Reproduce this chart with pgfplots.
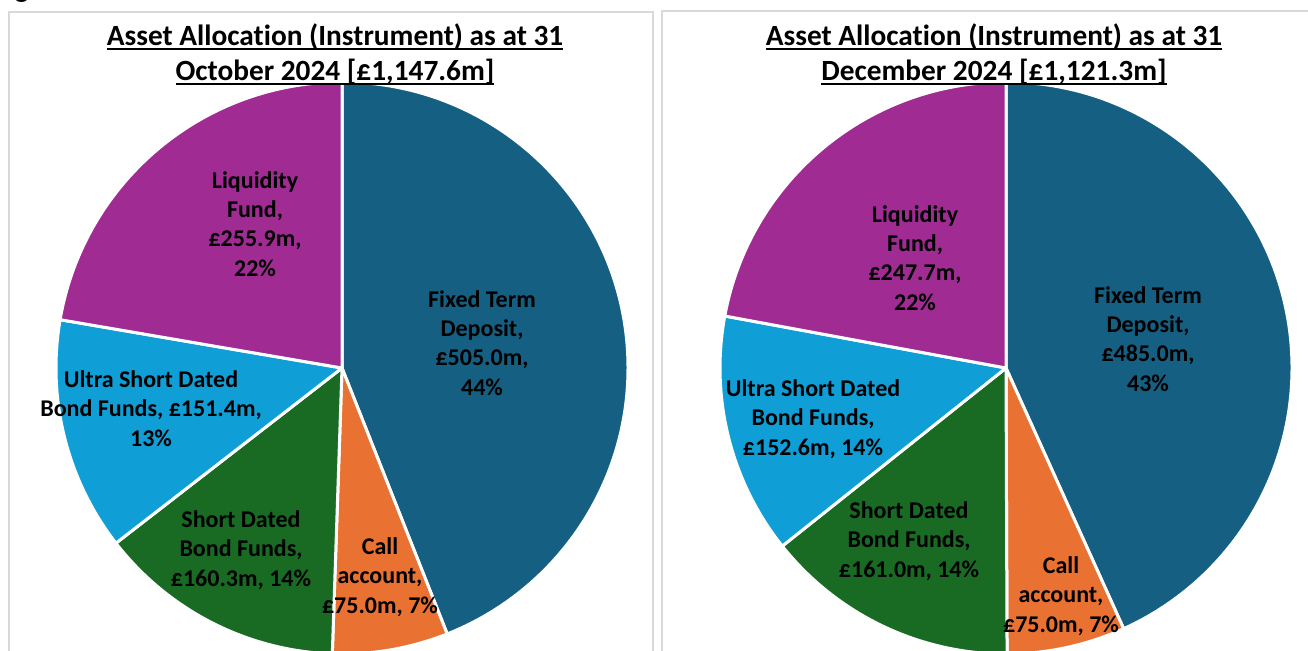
\documentclass[border=0pt]{standalone}
\usepackage{pgfplots}
\pgfplotsset{compat=1.18}
\usepackage{pgfplotstable}
\usepackage{fontspec}
\setmainfont{Carlito}[Ligatures=NoCommon]

\newsavebox\ulbox
\newcommand\ul[1]{\sbox\ulbox{#1}\rlap{\rule[-3.4pt]{\wd\ulbox}{1.5pt}}\usebox\ulbox}

\definecolor{cFixed}{HTML}{156082}
\definecolor{cCall}{HTML}{E97132}
\definecolor{cShort}{HTML}{196B24}
\definecolor{cUltra}{HTML}{0F9ED5}
\definecolor{cLiq}{HTML}{A02B93}
\definecolor{cFrame}{HTML}{D9D9D9}

% Values (order clockwise from 12 o'clock): Fixed, Call, Short, Ultra, Liquidity
\pgfplotstableread{
value
505.0
75.0
160.3
151.4
255.9
}\octdata
\pgfplotstableread{
value
485.0
75.0
161.0
152.6
247.7
}\decdata

\newcommand\pieangles[2]{%
  \gdef\pietotal{0}%
  \pgfplotstableforeachcolumnelement{value}\of#1\as\v{%
    \pgfmathsetmacro\t{\pietotal+\v}\xdef\pietotal{\t}}%
  \gdef\piecum{0}%
  \pgfplotstableforeachcolumnelement{value}\of#1\as\v{%
    \pgfmathsetmacro\s{90-(\piecum/\pietotal)*360}%
    \pgfmathsetmacro\t{\piecum+\v}\xdef\piecum{\t}%
    \pgfmathsetmacro\e{90-(\piecum/\pietotal)*360}%
    \expandafter\xdef\csname #2s\pgfplotstablerow\endcsname{\s}%
    \expandafter\xdef\csname #2e\pgfplotstablerow\endcsname{\e}}%
}
\pieangles{\octdata}{oct}
\pieangles{\decdata}{dec}

\def\pieR{214.5pt}
\newcommand\pieslice[5]{%
  \fill[#5, draw=white, line width=2.25pt, line join=round]
    (axis cs:#1,#2) -- ++(\csname #3s#4\endcsname:\pieR)
    arc[start angle=\csname #3s#4\endcsname, end angle=\csname #3e#4\endcsname, radius=\pieR] -- cycle;}

\newcommand\lbl{\bfseries\fontsize{18}{22}\selectfont}
\newcommand\ttl{\bfseries\fontsize{22}{26.25}\selectfont}

\begin{document}
\begin{tikzpicture}
\useasboundingbox (0,0) rectangle (981pt,487.5pt);
\begin{axis}[width=981pt, height=487.5pt, scale only axis,
  xmin=0, xmax=1308, ymin=0, ymax=650, y dir=reverse,
  axis lines=none, clip=true]
% frames
\draw[cFrame, line width=1.1pt] (axis cs:9,700) -- (axis cs:9,12) -- (axis cs:653,12) -- (axis cs:653,700);
\draw[cFrame, line width=1.1pt] (axis cs:662,700) -- (axis cs:662,11) -- (axis cs:1320,11);
% partial heading text cut off at top
\node[anchor=base west, font=\ttl, inner sep=0pt] at (axis cs:-6,-3) {Fig};
% left pie
\pieslice{342}{368}{oct}{0}{cFixed}
\pieslice{342}{368}{oct}{1}{cCall}
\pieslice{342}{368}{oct}{2}{cShort}
\pieslice{342}{368}{oct}{3}{cUltra}
\pieslice{342}{368}{oct}{4}{cLiq}
% right pie
\pieslice{1006}{368}{dec}{0}{cFixed}
\pieslice{1006}{368}{dec}{1}{cCall}
\pieslice{1006}{368}{dec}{2}{cShort}
\pieslice{1006}{368}{dec}{3}{cUltra}
\pieslice{1006}{368}{dec}{4}{cLiq}
% titles
\node[anchor=base, font=\ttl, inner sep=0pt] at (axis cs:335,45) {\ul{Asset Allocation (Instrument) as at 31}};
\node[anchor=base, font=\ttl, inner sep=0pt] at (axis cs:335,80) {\ul{October 2024 [£1,147.6m]}};
\node[anchor=base, font=\ttl, inner sep=0pt] at (axis cs:994,45) {\ul{Asset Allocation (Instrument) as at 31}};
\node[anchor=base, font=\ttl, inner sep=0pt] at (axis cs:994,80) {\ul{December 2024 [£1,121.3m]}};
% left labels (anchor = baseline of last line)
\node[anchor=base, font=\lbl, align=center, inner sep=0pt] at (axis cs:255,276) {Liquidity\\Fund,\\£255.9m,\\22\%};
\node[anchor=base, font=\lbl, align=center, inner sep=0pt] at (axis cs:482,395) {Fixed Term\\Deposit,\\£505.0m,\\44\%};
\node[anchor=base, font=\lbl, align=center, inner sep=0pt] at (axis cs:151,446) {Ultra Short Dated\\Bond Funds, £151.4m,\\13\%};
\node[anchor=base, font=\lbl, align=center, inner sep=0pt] at (axis cs:241,586) {Short Dated\\Bond Funds,\\£160.3m, 14\%};
\node[anchor=base, font=\lbl, align=center, inner sep=0pt] at (axis cs:380,613) {Call\\account,\\£75.0m, 7\%};
% right labels
\node[anchor=base, font=\lbl, align=center, inner sep=0pt] at (axis cs:915,310) {Liquidity\\Fund,\\£247.7m,\\22\%};
\node[anchor=base, font=\lbl, align=center, inner sep=0pt] at (axis cs:1148,391) {Fixed Term\\Deposit,\\£485.0m,\\43\%};
\node[anchor=base, font=\lbl, align=center, inner sep=0pt] at (axis cs:813,455) {Ultra Short Dated\\Bond Funds,\\£152.6m, 14\%};
\node[anchor=base, font=\lbl, align=center, inner sep=0pt] at (axis cs:909,577) {Short Dated\\Bond Funds,\\£161.0m, 14\%};
\node[anchor=base, font=\lbl, align=center, inner sep=0pt] at (axis cs:1061,632) {Call\\account,\\£75.0m, 7\%};
\end{axis}
\end{tikzpicture}
\end{document}
